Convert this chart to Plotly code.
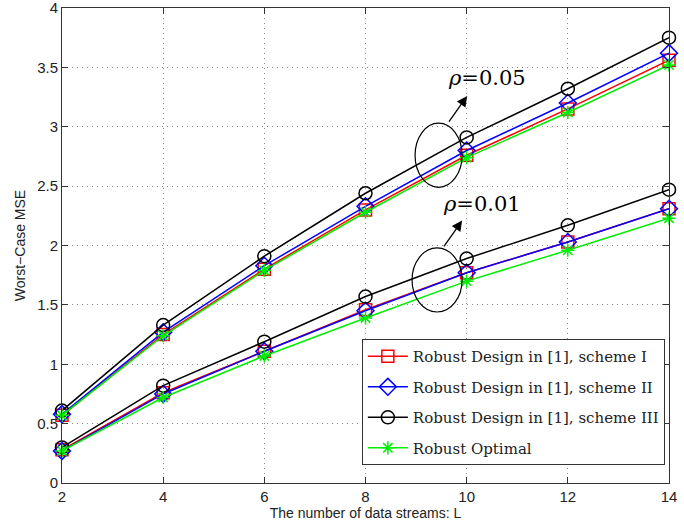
import plotly.graph_objects as go

L = [2, 4, 6, 8, 10, 12, 14]

# rho = 0.05
s1_05 = [0.57, 1.25, 1.80, 2.30, 2.76, 3.15, 3.56]
s2_05 = [0.58, 1.27, 1.83, 2.33, 2.80, 3.20, 3.62]
s3_05 = [0.61, 1.33, 1.91, 2.44, 2.91, 3.32, 3.75]
opt_05 = [0.57, 1.24, 1.79, 2.28, 2.74, 3.12, 3.52]

# rho = 0.01
s1_01 = [0.28, 0.76, 1.11, 1.46, 1.77, 2.03, 2.31]
s2_01 = [0.27, 0.75, 1.11, 1.45, 1.77, 2.03, 2.31]
s3_01 = [0.30, 0.82, 1.19, 1.57, 1.89, 2.17, 2.47]
opt_01 = [0.27, 0.72, 1.07, 1.39, 1.70, 1.96, 2.23]

names = ["Robust Design in [1], scheme I", "Robust Design in [1], scheme II",
         "Robust Design in [1], scheme III", "Robust Optimal"]
colors = ["#ff0000", "#0000ff", "#000000", "#00ee00"]
symbols = ["square-open", "diamond-open", "circle-open", "asterisk-open"]
sizes = [12, 13, 13, 11]
groups = [(s1_05, s1_01), (s2_05, s2_01), (s3_05, s3_01), (opt_05, opt_01)]

fig = go.Figure()
for i, (a, b) in enumerate(groups):
    for j, ys in enumerate((a, b)):
        fig.add_trace(go.Scatter(
            x=L, y=ys, mode="lines+markers", name=names[i],
            legendgroup=names[i], showlegend=(j == 0), cliponaxis=False,
            line=dict(color=colors[i], width=1.5),
            marker=dict(symbol=symbols[i], size=sizes[i], color=colors[i],
                        line=dict(color=colors[i], width=1.5)),
        ))

# ellipses
for (x0, x1, y0, y1) in [(8.98, 9.91, 2.49, 3.03), (8.92, 9.91, 1.44, 1.98)]:
    fig.add_shape(type="circle", xref="x", yref="y", x0=x0, x1=x1, y0=y0, y1=y1,
                  line=dict(color="black", width=1.2))

# arrows
for (tx, ty, hx, hy) in [(9.63, 3.03, 10.01, 3.26), (9.53, 1.98, 9.91, 2.21)]:
    fig.add_annotation(x=hx, y=hy, ax=tx, ay=ty, xref="x", yref="y", axref="x", ayref="y",
                       showarrow=True, arrowhead=2, arrowsize=1.6, arrowwidth=1.3,
                       arrowcolor="black", text="")

for (tx, ty, t) in [(10.40, 3.41, "<i>ρ</i>=0.05"), (10.30, 2.35, "<i>ρ</i>=0.01")]:
    fig.add_annotation(x=tx, y=ty, xref="x", yref="y", text=t, showarrow=False,
                       font=dict(family="DejaVu Serif", size=21, color="black"))

axis_common = dict(showline=True, linecolor="#333333", linewidth=1, mirror="ticks",
                   ticks="inside", ticklen=6, tickcolor="#333333",
                   showgrid=True, gridcolor="#888888", griddash="1px,4px", gridwidth=1,
                   zeroline=False, automargin=False, ticklabeloverflow="allow",
                   tickfont=dict(family="Liberation Sans", size=15, color="#222222"))

fig.update_xaxes(range=[2, 14], tickvals=L, **axis_common,
                 title=dict(text="The number of data streams: L", standoff=4,
                            font=dict(family="Liberation Sans", size=14, color="#222222")))
fig.update_yaxes(range=[0, 4], tickvals=[0, 0.5, 1, 1.5, 2, 2.5, 3, 3.5, 4],
                 ticktext=["0", "0.5", "1", "1.5", "2", "2.5", "3", "3.5", "4"], **axis_common,
                 title=dict(text="Worst\u2212Case MSE", standoff=8,
                            font=dict(family="Liberation Sans", size=14, color="#222222")))

fig.update_layout(
    width=684, height=527,
    margin=dict(l=62, r=15, t=8, b=44),
    paper_bgcolor="white", plot_bgcolor="white",
    legend=dict(x=0.494, y=0.303, xanchor="left", yanchor="top",
                bgcolor="white", bordercolor="#333333", borderwidth=1,
                font=dict(family="DejaVu Serif", size=15, color="#222222"),
                tracegroupgap=8, itemwidth=40),
)

fig.write_html("out.html", config={"displayModeBar": False},
               post_script="document.body.style.margin='0';document.body.style.overflow='hidden';")
